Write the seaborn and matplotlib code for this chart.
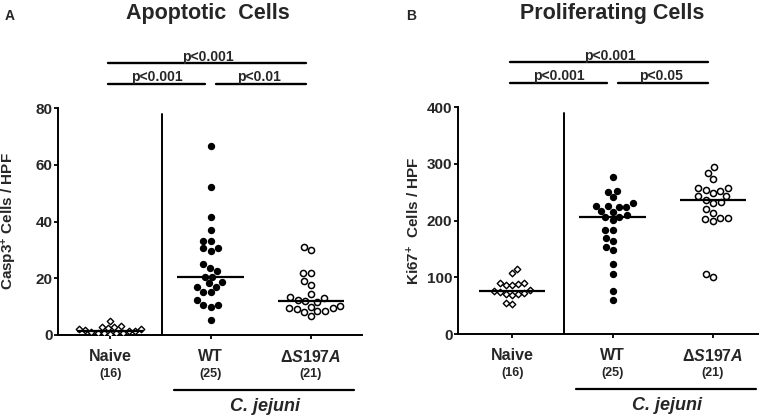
import matplotlib
matplotlib.use("Agg")
import matplotlib.pyplot as plt
import numpy as np
import pandas as pd
import seaborn as sns

# groups / labels
GROUPS = ["Naive", "WT", "ΔS197A"]
TICK_LABELS = ["Naive", "WT", "Δ$\\mathit{S197A}$"]
N_LABELS = ["(16)", "(25)", "(21)"]

# panel A - Casp3+ cells / HPF
casp3_naive = [5.0, 3.0, 2.8, 2.5, 2.0, 1.6, 1.3, 1.0, 0.8, 0.7, 0.6, 0.5, 0.8, 1.4, 2.0, 2.8]
casp3_wt = [66.6, 52.3, 41.5, 37.0, 33.1, 33.1, 30.5, 29.7, 30.5, 25.0, 23.5, 22.7, 20.6,
            20.6, 18.2, 18.8, 17.0, 17.0, 15.3, 15.3, 12.3, 10.6, 10.0, 10.6, 5.3]
casp3_s197a = [31.0, 29.8, 22.0, 22.0, 19.2, 17.6, 14.4, 13.3, 13.0, 12.5, 12.0, 11.5,
               10.3, 10.0, 9.6, 9.5, 9.3, 8.5, 8.3, 8.2, 6.7]
casp3_yticks = [0, 20, 40, 60, 80]

# panel B - Ki67+ cells / HPF
ki67_naive = [114, 108, 90, 89, 88, 87, 86, 77, 75, 74, 72, 71, 70, 68, 55, 53]
ki67_wt = [276, 252, 251, 241, 226, 230, 223, 223, 225, 215, 217, 207, 201, 206, 210,
           183, 184, 170, 163, 154, 148, 123, 106, 76, 60]
ki67_s197a = [294, 284, 273, 257, 252, 258, 254, 243, 243, 248, 233, 231, 237, 221,
              204, 202, 199, 204, 214, 100, 106]
ki67_yticks = [0, 100, 200, 300, 400]

# significance labels: (all, naive-vs-WT, WT-vs-S197A)
pvals_a = ["p<0.001", "p<0.001", "p<0.01"]
pvals_b = ["p<0.001", "p<0.001", "p<0.05"]

sns.set_style("ticks")
plt.rcParams["font.family"] = ["Liberation Sans", "DejaVu Sans"]
plt.rcParams["font.weight"] = "bold"
plt.rcParams["mathtext.fontset"] = "custom"
plt.rcParams["mathtext.rm"] = "Liberation Sans:bold"
plt.rcParams["mathtext.bf"] = "Liberation Sans:bold"
plt.rcParams["mathtext.it"] = "Liberation Sans:italic:bold"
plt.rcParams["mathtext.default"] = "rm"


def make_frame(naive, wt, mut):
    rows = [(GROUPS[0], v) for v in naive] + [(GROUPS[1], v) for v in wt] + [(GROUPS[2], v) for v in mut]
    return pd.DataFrame(rows, columns=["group", "value"])


def draw_panel(ax, df, yticks, ylabel, pvals, xlim):
    sub = df[df.group == GROUPS[0]]
    sns.swarmplot(data=sub, x="group", y="value", order=GROUPS, ax=ax, marker="D",
                  size=3.3, color="white", edgecolor="black", linewidth=1.0)
    sub = df[df.group == GROUPS[1]]
    sns.swarmplot(data=sub, x="group", y="value", order=GROUPS, ax=ax, marker="o",
                  size=5.3, color="black", edgecolor="black", linewidth=0)
    sub = df[df.group == GROUPS[2]]
    sns.swarmplot(data=sub, x="group", y="value", order=GROUPS, ax=ax, marker="o",
                  size=4.4, color="white", edgecolor="black", linewidth=1.1)

    # median lines
    for i, g in enumerate(GROUPS):
        med = np.median(df.loc[df.group == g, "value"])
        ax.hlines(med, i - 0.33, i + 0.33, color="black", lw=1.6, zorder=5)

    ax.set_xlim(*xlim)
    ax.set_ylim(yticks[0], yticks[-1])
    ax.set_yticks(yticks)
    ax.set_yticklabels([str(t) for t in yticks], fontsize=11, fontweight="bold")
    ax.set_xticks(range(len(GROUPS)))
    ax.set_xticklabels(TICK_LABELS, fontsize=11.5, fontweight="bold")
    ax.set_xlabel("")
    ax.set_ylabel(ylabel, fontsize=11, fontweight="bold")
    ax.yaxis.set_label_coords(-0.128, 0.5)
    ax.tick_params(axis="both", direction="out", length=3, width=1.3, color="black")
    ax.tick_params(axis="x", pad=7)
    ax.tick_params(axis="y", pad=1)
    sns.despine(ax=ax)
    for s in ("left", "bottom"):
        ax.spines[s].set_linewidth(1.4)
        ax.spines[s].set_color("black")

    tr = ax.get_xaxis_transform()
    # divider between naive and infected
    ax.plot([0.517, 0.517], [0, 0.975], transform=tr, color="black", lw=1.4, clip_on=False)

    # group sizes
    for i, n in enumerate(N_LABELS):
        ax.text(i, -0.172, n, transform=tr, ha="center", va="center", fontsize=9, fontweight="bold")

    # C. jejuni bracket
    ax.plot([0.637, 2.43], [-0.242, -0.242], transform=tr, color="black", lw=1.6, clip_on=False)
    ax.text(1.54, -0.313, "C. jejuni", transform=tr, ha="center", va="center",
            fontsize=13, fontweight="bold", fontstyle="italic")

    # significance bars
    ax.plot([-0.02, 1.95], [1.198, 1.198], transform=tr, color="black", lw=1.7, clip_on=False)
    ax.plot([-0.02, 0.945], [1.106, 1.106], transform=tr, color="black", lw=1.7, clip_on=False)
    ax.plot([1.05, 1.95], [1.106, 1.106], transform=tr, color="black", lw=1.7, clip_on=False)
    ax.text(0.975, 1.209, pvals[0], transform=tr, ha="center", va="baseline", fontsize=10, fontweight="bold")
    ax.text(0.47, 1.117, pvals[1], transform=tr, ha="center", va="baseline", fontsize=10, fontweight="bold")
    ax.text(1.48, 1.117, pvals[2], transform=tr, ha="center", va="baseline", fontsize=10, fontweight="bold")


W, H = 767, 417
fig = plt.figure(figsize=(W / 100, H / 100), dpi=100)
axA = fig.add_axes([58 / W, 1 - 335 / H, 304 / W, 227 / H])
axB = fig.add_axes([458 / W, 1 - 334 / H, 300 / W, 227 / H])

draw_panel(axA, make_frame(casp3_naive, casp3_wt, casp3_s197a), casp3_yticks,
           "Casp3$^{+}$ Cells / HPF", pvals_a, (-0.52, 2.51))
draw_panel(axB, make_frame(ki67_naive, ki67_wt, ki67_s197a), ki67_yticks,
           "Ki67$^{+}$  Cells / HPF", pvals_b, (-0.54, 2.45))
axB.yaxis.set_label_coords(-0.12, 0.5)

fig.text(208 / W, 1 - 13 / H, "Apoptotic  Cells", ha="center", va="center", fontsize=15.5, fontweight="bold")
fig.text(612 / W, 1 - 13 / H, "Proliferating Cells", ha="center", va="center", fontsize=15.5, fontweight="bold")
fig.text(10 / W, 1 - 16 / H, "A", ha="center", va="center", fontsize=10, fontweight="bold")
fig.text(411 / W, 1 - 16 / H, "B", ha="center", va="center", fontsize=10, fontweight="bold")

fig.savefig("out.png", dpi=100)
